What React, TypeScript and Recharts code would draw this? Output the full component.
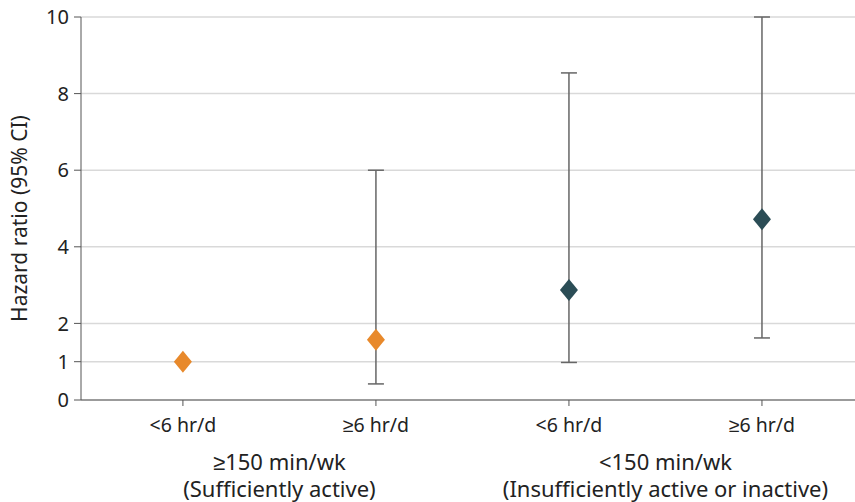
import React from "react";
import { ComposedChart, Scatter, ErrorBar, XAxis, YAxis, CartesianGrid } from "recharts";

// point estimates and 95% CI
const categories = ["<6 hr/d", "≥6 hr/d", "<6 hr/d", "≥6 hr/d"];
const hazardRatio = [1.0, 1.57, 2.87, 4.72];
const ciLow = [1.0, 0.42, 0.98, 1.62];
const ciHigh = [1.0, 6.0, 8.54, 10.0];
const groupLine1 = ["≥150 min/wk", "<150 min/wk"];
const groupLine2 = ["(Sufficiently active)", "(Insufficiently active or inactive)"];
const groupPositions = [0.5, 2.5];
const yTicks = [0, 1, 2, 4, 6, 8, 10];

const ORANGE = "#E8892B";
const TEAL = "#2B4D56";
const FONT = "'Noto Sans', sans-serif";

const rows = categories.map((c, i) => ({
  x: i,
  hr: hazardRatio[i],
  err: [hazardRatio[i] - ciLow[i], ciHigh[i] - hazardRatio[i]],
}));
const active = rows.slice(0, 2);
const inactive = rows.slice(2);
const xTicks = [0, 0.5, 1, 2, 2.5, 3];

const Diamond = (props: any) => {
  const { cx, cy, fill } = props;
  const w = 9;
  const h = 11;
  return <polygon points={`${cx},${cy - h} ${cx + w},${cy} ${cx},${cy + h} ${cx - w},${cy}`} fill={fill} />;
};

// category labels on integer ticks, group labels on the half ticks
const XTick = (props: any) => {
  const { x, y, payload } = props;
  const v = payload.value;
  const g = groupPositions.indexOf(v);
  if (g >= 0) {
    return (
      <g>
        <text x={x} y={y + 70} textAnchor="middle" fontSize={22} fontFamily={FONT} fill="#222">
          {groupLine1[g]}
        </text>
        <text x={x} y={y + 97} textAnchor="middle" fontSize={22} fontFamily={FONT} fill="#222">
          {groupLine2[g]}
        </text>
      </g>
    );
  }
  return (
    <g>
      <line x1={x} x2={x} y1={y} y2={y + 6} stroke="#555" strokeWidth={1} />
      <text x={x} y={y + 32} textAnchor="middle" fontSize={19.5} fontFamily={FONT} fill="#222">
        {categories[v]}
      </text>
    </g>
  );
};

const YLabel = (props: any) => {
  const { viewBox } = props;
  const x = viewBox.x + 19;
  const y = viewBox.y + viewBox.height / 2 + 10;
  return (
    <text x={x} y={y} transform={`rotate(-90, ${x}, ${y})`} textAnchor="middle" dominantBaseline="central" fontSize={21} fontFamily={FONT} fill="#222">
      Hazard ratio (95% CI)
    </text>
  );
};

export default function App() {
  return (
    <div style={{ position: "absolute", left: 0, top: 0, background: "#fff" }}>
      <ComposedChart width={855} height={502} margin={{ top: 17, right: 0, bottom: 0, left: 0 }}>
        <CartesianGrid horizontal vertical={false} stroke="#d9d9d9" strokeWidth={1.5} />
        <XAxis
          dataKey="x"
          type="number"
          domain={[-0.528, 3.482]}
          ticks={xTicks}
          interval={0}
          height={102}
          stroke="#555"
          tickLine={false}
          tickSize={0}
          tickMargin={0}
          tick={<XTick />}
          allowDataOverflow
        />
        <YAxis
          type="number"
          domain={[0, 10]}
          ticks={yTicks}
          width={81}
          stroke="#555"
          tickSize={7}
          tickMargin={5}
          tick={{ fontSize: 20, fontFamily: FONT, fill: "#222" }}
          label={<YLabel />}
        />
        <Scatter data={active} dataKey="hr" fill={ORANGE} shape={<Diamond />} isAnimationActive={false}>
          <ErrorBar dataKey="err" direction="y" width={8} stroke="#666" strokeWidth={1.5} />
        </Scatter>
        <Scatter data={inactive} dataKey="hr" fill={TEAL} shape={<Diamond />} isAnimationActive={false}>
          <ErrorBar dataKey="err" direction="y" width={8} stroke="#666" strokeWidth={1.5} />
        </Scatter>
      </ComposedChart>
    </div>
  );
}
